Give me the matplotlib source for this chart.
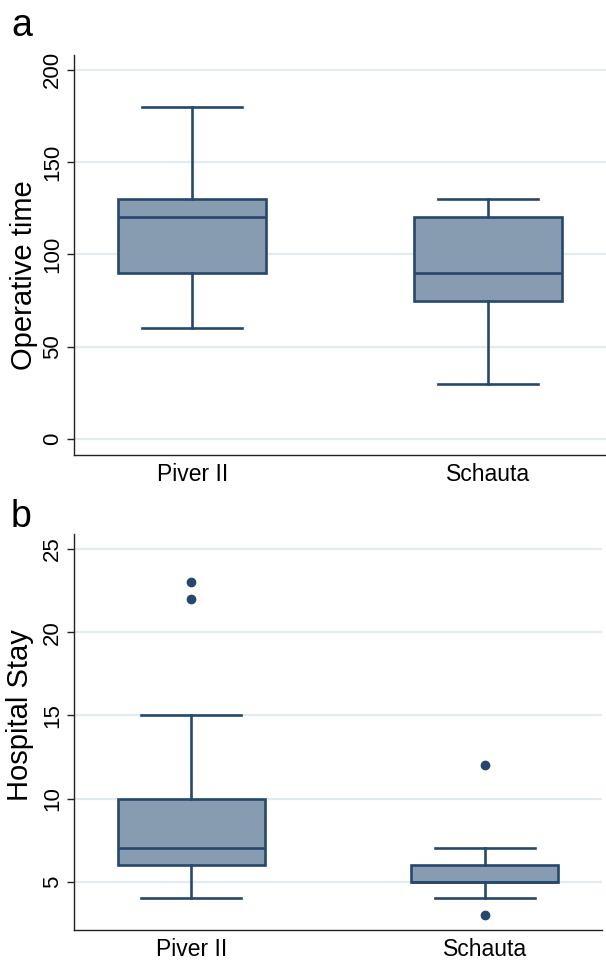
import matplotlib
matplotlib.use("Agg")
import matplotlib.pyplot as plt

plt.rcParams['font.family'] = ['Liberation Sans', 'DejaVu Sans']

groups = ["Piver II", "Schauta"]

# Panel a: Operative time
op_whislo = [60, 30]
op_q1 = [90, 75]
op_med = [120, 90]
op_q3 = [130, 120]
op_whishi = [180, 130]
op_fliers = [[], []]

# Panel b: Hospital stay
hs_whislo = [4, 4]
hs_q1 = [6, 5]
hs_med = [7, 5]
hs_q3 = [10, 6]
hs_whishi = [15, 7]
hs_fliers = [[22, 23], [12, 3]]

op_ticks = [0, 50, 100, 150, 200]
hs_ticks = [5, 10, 15, 20, 25]

FILL = "#879cb0"
EDGE = "#27486c"
GRID = "#e2ebed"

def stats(lo, q1, med, q3, hi, fl):
    return [dict(whislo=lo[i], q1=q1[i], med=med[i], q3=q3[i], whishi=hi[i],
                 fliers=fl[i], label=groups[i]) for i in range(len(groups))]

fig = plt.figure(figsize=(6.06, 9.6), dpi=100)
ax1 = fig.add_axes([74/606, 1-455/960, 532/606, 400/960])
ax2 = fig.add_axes([74/606, 1-930/960, 528/606, 396/960])

def draw(ax, st, ticks, ylim, ylabel, lab_pos):
    ax.set_axisbelow(True)
    for t in ticks:
        ax.axhline(t, color=GRID, lw=1.6, zorder=0)
    lw = 1.9
    ax.bxp(st, positions=[1, 2], widths=0.5, patch_artist=True, showfliers=True,
           boxprops=dict(facecolor=FILL, edgecolor=EDGE, linewidth=lw),
           medianprops=dict(color=EDGE, linewidth=lw),
           whiskerprops=dict(color=EDGE, linewidth=lw),
           capprops=dict(color=EDGE, linewidth=lw),
           capwidths=0.34,
           flierprops=dict(marker='o', markerfacecolor=EDGE, markeredgecolor=EDGE,
                           markersize=6, linestyle='none'))
    ax.set_xlim(0.6, 2.4)
    ax.set_ylim(*ylim)
    ax.set_yticks(ticks)
    ax.set_yticklabels([str(t) for t in ticks], rotation=90, va='center', fontsize=16)
    ax.set_xticks([1, 2])
    ax.set_xticklabels(groups, fontsize=16.5)
    ax.tick_params(axis='x', length=0, pad=6)
    ax.tick_params(axis='y', length=5, width=1, pad=3, color='#222222')
    for s in ['top', 'right']:
        ax.spines[s].set_visible(False)
    for s in ['left', 'bottom']:
        ax.spines[s].set_linewidth(1.0)
        ax.spines[s].set_color('#222222')
    ax.set_ylabel(ylabel, fontsize=21)
    ax.yaxis.set_label_coords(lab_pos[0], lab_pos[1])

draw(ax1, stats(op_whislo, op_q1, op_med, op_q3, op_whishi, op_fliers),
     op_ticks, (-8.7, 208), "Operative time", (-0.067, 0.45))
draw(ax2, stats(hs_whislo, hs_q1, hs_med, hs_q3, hs_whishi, hs_fliers),
     hs_ticks, (2.1, 25.9), "Hospital Stay", (-0.076, 0.543))

fig.text(11/606, 1-36/960, "a", fontsize=27, va='baseline', ha='left')
fig.text(11/606, 1-527/960, "b", fontsize=27, va='baseline', ha='left')

fig.savefig("out.png", dpi=100, facecolor='white')
